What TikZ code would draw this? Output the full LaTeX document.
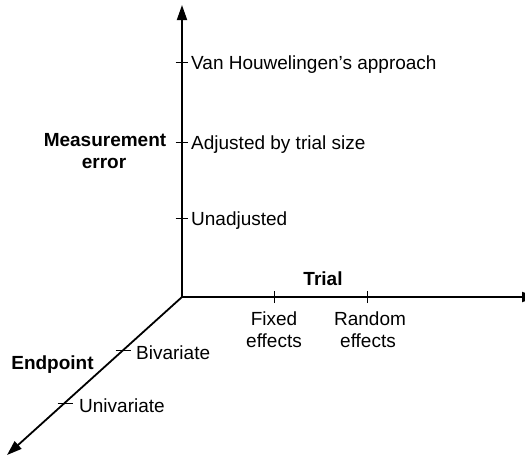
\documentclass[tikz,border=0pt]{standalone}
\usepackage{fontspec}
\setmainfont{Liberation Sans}
\usetikzlibrary{arrows.meta}
\begin{document}
\begin{tikzpicture}[x=1pt,y=-1pt,
  axis/.style={line width=1.8pt,-{Triangle[length=15pt,width=10pt]}},
  tickmark/.style={line width=0.8pt},
  lab/.style={font=\fontsize{19}{22}\selectfont,inner sep=0pt},
  ttl/.style={font=\fontsize{19}{22}\selectfont\bfseries,align=center,inner sep=0pt},
  two/.style={font=\fontsize{19}{22}\selectfont,align=center,inner sep=0pt}]
\useasboundingbox (0,0) rectangle (525,459);
\coordinate (O) at (182,297);
\coordinate (top) at (182,5);
\coordinate (right) at (537,297);
\coordinate (end) at (7,455);
\draw[axis] (O) -- (top);
\draw[axis] (O) -- (right);
\draw[axis] (O) -- (end);
% vertical ticks
\coordinate (v1) at (182,62);
\coordinate (v2) at (182,142);
\coordinate (v3) at (182,218);
\foreach \t in {v1,v2,v3}{\draw[tickmark] ([xshift=-6.5pt]\t) -- ([xshift=6pt]\t);}
% horizontal ticks
\coordinate (h1) at (274,297);
\coordinate (h2) at (367,297);
\foreach \t in {h1,h2}{\draw[tickmark] ([yshift=-6pt]\t) -- ([yshift=6pt]\t);}
% diagonal ticks
\coordinate (d1) at (123,350);
\coordinate (d2) at (65,403);
\foreach \t in {d1,d2}{\draw[tickmark] ([xshift=-7.5pt]\t) -- ([xshift=7.5pt]\t);}
% labels
\node[lab,anchor=base west] (lv1) at (191,69) {Van Houwelingen’s approach};
\node[lab,anchor=base west] (lv2) at (191,149) {Adjusted by trial size};
\node[lab,anchor=base west] (lv3) at (191,225) {Unadjusted};
\node[ttl,anchor=base] (me1) at (105,146) {Measurement};
\node[ttl,anchor=base] (me2) at (104,168) {error};
\node[ttl,anchor=base] (tr) at (323,285) {Trial};
\node[lab,anchor=base] (fe1) at (274,325) {Fixed};
\node[lab,anchor=base] (fe2) at (274,347) {effects};
\node[lab,anchor=base] (re1) at (370,325) {Random};
\node[lab,anchor=base] (re2) at (368,347) {effects};
\node[lab,anchor=base west] (bv) at (136,359) {Bivariate};
\node[lab,anchor=base west] (uv) at (79,412) {Univariate};
\node[ttl,anchor=base] (ep) at (52.5,369) {Endpoint};
\end{tikzpicture}
\end{document}
